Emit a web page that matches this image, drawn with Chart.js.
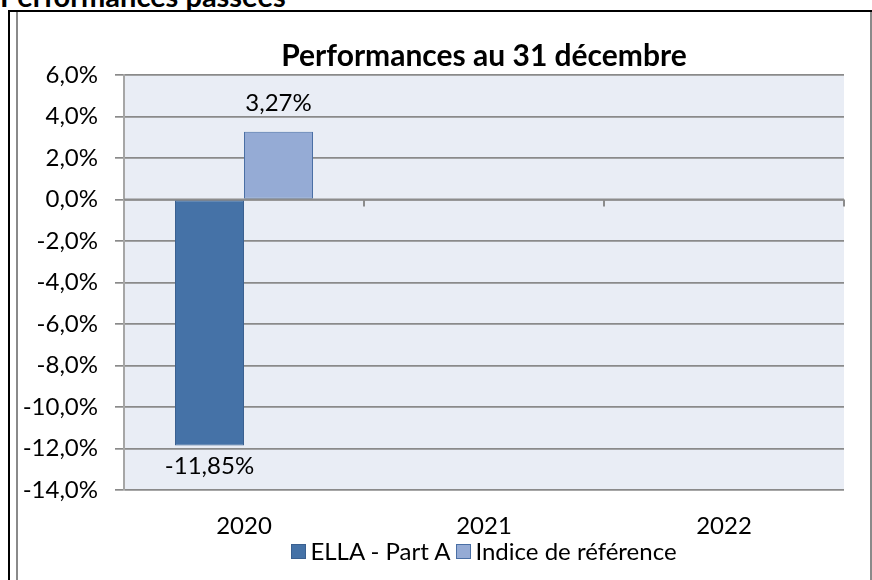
<!DOCTYPE html>
<html>
<head>
<meta charset="utf-8">
<script src="https://cdn.jsdelivr.net/npm/chart.js@4.4.1/dist/chart.umd.min.js"></script>
<style>
  body { margin: 0; background: #fff; font-family: Lato, "Open Sans", sans-serif; }
  #wrap { position: relative; width: 872px; height: 580px; overflow: hidden; }
  #head { position: absolute; left: 0; top: -22px; font-weight: bold; font-size: 29px; color: #000; white-space: nowrap; }
  #outer { position: absolute; left: 8px; top: 10px; width: 900px; height: 600px; border-left: 2px solid #000; border-top: 2px solid #000; }
  #inner { position: absolute; left: 16px; top: 12px; width: 852px; height: 600px; border-left: 2px solid #8a8a8a; border-right: 2px solid #8a8a8a; }
  #myChart { position: absolute; left: 0; top: 0; }
  #title { position: absolute; left: 124px; width: 720px; top: 36px; text-align: center; font-weight: bold; font-size: 30px; line-height: 36px; color: #000; }
  #legend { position: absolute; left: 124px; width: 720px; top: 536px; text-align: center; font-size: 24px; line-height: 30px; color: #000; white-space: nowrap; }
  .sw { display: inline-block; width: 13px; height: 13px; margin: 0 4px 0 0; vertical-align: 1px; }
  .item { margin: 0 3px; }
</style>
</head>
<body>
<div id="wrap">
  <div id="head">Performances passées</div>
  <div id="outer"></div>
  <div id="inner"></div>
  <canvas id="myChart" width="872" height="580"></canvas>
  <div id="title">Performances au 31 décembre</div>
  <div id="legend"></div>
</div>
<script>
const years = ["2020", "2021", "2022"];
const fundLabel = "ELLA - Part A";
const indexLabel = "Indice de référence";
const fundValues = [-11.85, null, null];
const indexValues = [3.27, null, null];
const yMin = -14;
const yMax = 6;
const yStep = 2;

const fundColor = "#4572a7";
const fundBorder = "#3a6090";
const indexColor = "#95abd5";
const indexBorder = "#4a6fa5";

function pct(v, digits) {
  return v.toFixed(digits).replace(".", ",") + "%";
}

// legend as html
document.getElementById("legend").innerHTML =
  '<span class="item"><span class="sw" style="background:' + fundColor + ';border:1px solid ' + fundBorder + '"></span>' + fundLabel + '</span>' +
  '<span class="item"><span class="sw" style="background:' + indexColor + ';border:1px solid ' + indexBorder + '"></span>' + indexLabel + '</span>';

const plotBg = {
  id: "plotBg",
  beforeDraw(chart) {
    const a = chart.chartArea;
    const c = chart.ctx;
    c.save();
    c.fillStyle = "#e9edf5";
    c.fillRect(a.left, a.top, a.right - a.left, a.bottom - a.top);
    c.restore();
  },
};

// small ticks on the zero line between the years
const zeroTicks = {
  id: "zeroTicks",
  afterDatasetsDraw(chart) {
    const xs = chart.scales.x;
    const ys = chart.scales.y;
    const y0 = ys.getPixelForValue(0);
    const c = chart.ctx;
    c.save();
    c.strokeStyle = "#8c8c8c";
    c.lineWidth = 2;
    c.beginPath();
    c.moveTo(chart.chartArea.left, y0);
    c.lineTo(chart.chartArea.right, y0);
    for (let i = 1; i <= years.length; i++) {
      const x = xs.getPixelForValue(i - 0.5);
      c.moveTo(x, y0);
      c.lineTo(x, y0 + 7);
    }
    c.stroke();
    c.restore();
  },
};

const valueLabels = {
  id: "valueLabels",
  afterDatasetsDraw(chart) {
    const c = chart.ctx;
    c.save();
    c.font = "24px Lato";
    c.fillStyle = "#000";
    c.textAlign = "center";
    c.textBaseline = "middle";
    chart.data.datasets.forEach((ds, di) => {
      const meta = chart.getDatasetMeta(di);
      meta.data.forEach((el, i) => {
        const v = ds.data[i];
        if (v === null) return;
        if (v >= 0) {
          c.fillText(pct(v, 2), el.x, el.y - 28);
        } else {
          c.fillText(pct(v, 2), el.x, el.y + 21);
        }
      });
    });
    c.restore();
  },
};

const ctx = document.getElementById("myChart");
const myChart = new Chart(ctx, {
  type: "bar",
  data: {
    labels: years,
    datasets: [
      {
        label: fundLabel,
        data: fundValues,
        backgroundColor: fundColor,
        borderColor: fundBorder,
        borderWidth: 1,
        borderSkipped: false,
        categoryPercentage: 0.575,
        barPercentage: 1,
      },
      {
        label: indexLabel,
        data: indexValues,
        backgroundColor: indexColor,
        borderColor: indexBorder,
        borderWidth: 1,
        borderSkipped: false,
        categoryPercentage: 0.575,
        barPercentage: 1,
      },
    ],
  },
  options: {
    responsive: false,
    animation: false,
    layout: {
      padding: { left: 0, right: 28, top: 75, bottom: 0 },
    },
    plugins: {
      legend: { display: false },
      title: { display: false },
      tooltip: { enabled: false },
    },
    scales: {
      x: {
        grid: { display: false },
        border: { display: false },
        ticks: {
          color: "#000",
          font: { family: "Lato", size: 24 },
          padding: 14,
        },
        afterFit(scale) {
          scale.height = 90;
        },
      },
      y: {
        min: yMin,
        max: yMax,
        grid: {
          color: "#8a8a8a",
          lineWidth: 1.7,
          tickLength: 9,
        },
        border: { display: true, color: "#a6a6a6", width: 2 },
        ticks: {
          stepSize: yStep,
          color: "#000",
          font: { family: "Lato", size: 24 },
          padding: 17,
          callback: (v) => pct(v, 1),
        },
        afterFit(scale) {
          scale.width = 124;
        },
      },
    },
  },
  plugins: [plotBg, zeroTicks, valueLabels],
});
</script>
</body>
</html>
